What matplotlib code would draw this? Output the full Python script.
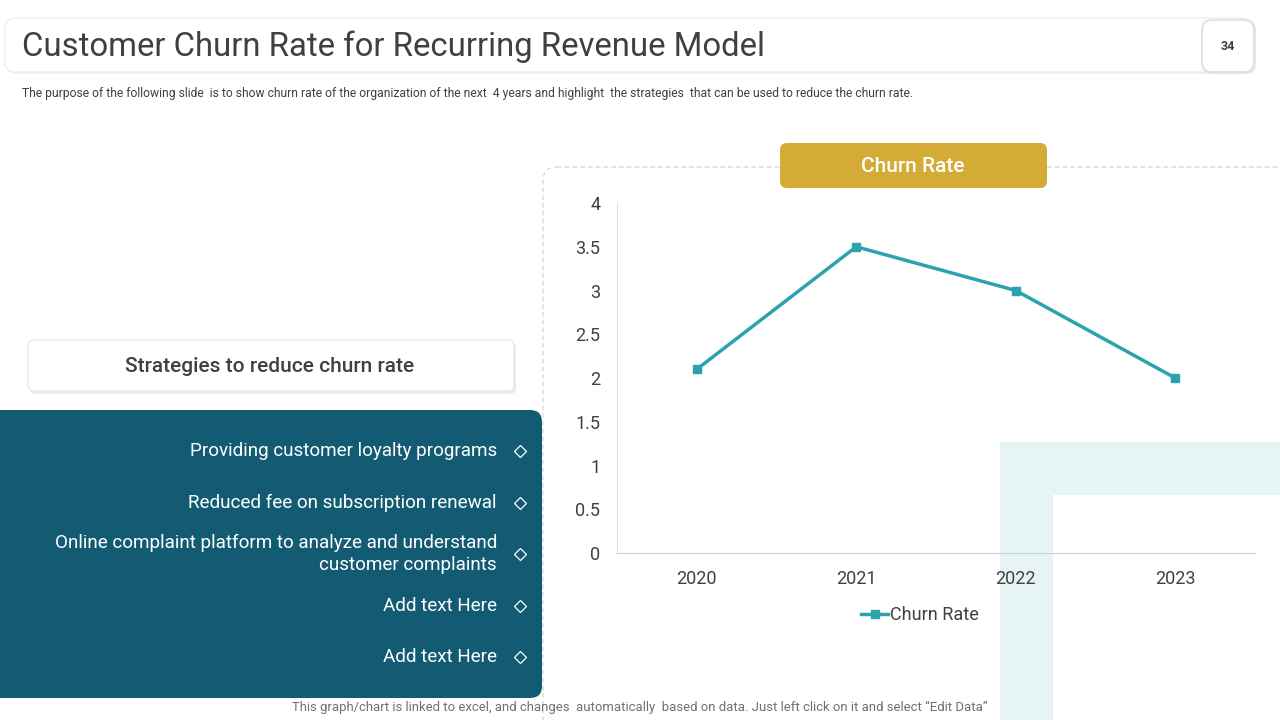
import matplotlib
matplotlib.use('Agg')
import matplotlib.pyplot as plt
from matplotlib.patches import FancyBboxPatch, Rectangle
import numpy as np

plt.rcParams['font.family'] = ['Roboto', 'DejaVu Sans']

# Datos
years = ['2020', '2021', '2022', '2023']
churn_rate = [2.1, 3.5, 3.0, 2.0]
y_ticks = [0, 0.5, 1, 1.5, 2, 2.5, 3, 3.5, 4]
y_tick_labels = ['0', '0.5', '1', '1.5', '2', '2.5', '3', '3.5', '4']

title = 'Customer Churn Rate for Recurring Revenue Model'
subtitle = ('The purpose of the following slide  is to show churn rate of the organization of the next  4 years '
            'and highlight  the strategies  that can be used to reduce the churn rate.')
strategies = [
    'Providing customer loyalty programs',
    'Reduced fee on subscription renewal',
    'Online complaint platform to analyze and understand\ncustomer complaints',
    'Add text Here',
    'Add text Here',
]
strategy_y = [451, 503, 554, 606, 657]
footer = ('This graph/chart is linked to excel, and changes  automatically  based on data. '
          'Just left click on it and select \u201cEdit Data\u201d')

TEAL = '#2BA3AE'
DARK_TEAL = '#125B73'
GOLD = '#D5AB37'
TXT = '#404040'

fig = plt.figure(figsize=(12.8, 7.2), dpi=100)

# Capa de fondo en coordenadas de píxel
bg = fig.add_axes([0, 0, 1, 1])
bg.set_xlim(0, 1280)
bg.set_ylim(720, 0)
bg.axis('off')

def rbox(x, y, w, h, fc, ec='none', r=8, lw=1, ls='-', z=1):
    p = FancyBboxPatch((x + r, y + r), w - 2 * r, h - 2 * r,
                       boxstyle=f'round,pad={r}', fc=fc, ec=ec, lw=lw, ls=ls, zorder=z)
    bg.add_patch(p)
    return p

# Forma en L de fondo
bg.add_patch(Rectangle((1000, 442), 53, 278, fc='#E6F4F6', ec='none', zorder=0.5))
bg.add_patch(Rectangle((1053, 442), 227, 53, fc='#E6F4F6', ec='none', zorder=0.5))

# Caja de título
rbox(7, 20, 1246, 54, '#F3F3F3', r=10, z=1)
rbox(5, 18, 1246, 54, 'white', ec='#EEEEEE', r=10, z=1.1)
rbox(1202, 20, 54, 54, '#E6E6E6', r=10, z=1.2)
rbox(1202, 20, 52, 52, 'white', ec='#E2E2E2', r=10, lw=1.5, z=1.3)
bg.text(22, 47, title, fontsize=23.7, color=TXT, va='center', ha='left', zorder=2)
bg.text(1228, 47, '34', fontsize=9, color=TXT, va='center', ha='center', fontweight='bold', zorder=2)
bg.text(22, 93, subtitle, fontsize=8.75, color=TXT, va='center', ha='left', zorder=2)

# Recuadro punteado del gráfico
rbox(543, 167, 760, 600, 'none', ec='#D0D0D0', r=14, lw=0.8, ls=(0, (4, 3)), z=0.8)

# Caja dorada
rbox(780, 143, 267, 45, GOLD, r=7, z=3)
bg.text(913, 166, 'Churn Rate', fontsize=15, color='white', ha='center', va='center',
        fontweight='medium', zorder=4)

# Caja de estrategias
rbox(30, 342, 486, 52, '#EBEBEB', r=6, z=1)
rbox(28, 340, 486, 51, 'white', ec='#E8E8E8', r=6, z=1.1)
bg.text(270, 366, 'Strategies to reduce churn rate', fontsize=15, color=TXT,
        ha='center', va='center', fontweight='medium', zorder=2)

# Caja azul con lista
rbox(-20, 410, 562, 288, DARK_TEAL, r=12, z=1)
for txt, yy in zip(strategies, strategy_y):
    bg.text(497, yy, txt, fontsize=13.6, color='white', ha='right', va='center',
            linespacing=1.25, zorder=2)
    bg.plot(520, yy, marker='D', ms=6.5, mfc='none', mec='white', mew=0.9, zorder=2)

bg.text(640, 707, footer, fontsize=9.45, color='#707070', ha='center', va='center', zorder=2)

# Gráfico de línea
ax = fig.add_axes([617 / 1280, 1 - 553 / 720, 638 / 1280, 350 / 720])
ax.patch.set_alpha(0)
x = np.arange(len(years))
line, = ax.plot(x, churn_rate, color=TEAL, lw=2.5, marker='s', ms=6, label='Churn Rate')
ax.set_xlim(-0.5, len(years) - 0.5)
ax.set_ylim(0, 4)
ax.set_xticks(x)
ax.set_xticklabels(years)
ax.set_yticks(y_ticks)
ax.set_yticklabels(y_tick_labels)
ax.tick_params(axis='both', length=0, labelsize=13, colors=TXT)
ax.tick_params(axis='x', pad=12)
ax.tick_params(axis='y', pad=12)
for s in ['top', 'right']:
    ax.spines[s].set_visible(False)
ax.spines['left'].set_color('#E0E0E0')
ax.spines['bottom'].set_color('#D0D0D0')
leg = ax.legend(loc='upper center', bbox_to_anchor=(0.475, -0.105), frameon=False,
                fontsize=13, handlelength=1.5, handletextpad=0.1, labelcolor=TXT)

fig.savefig('out.png', dpi=100)
